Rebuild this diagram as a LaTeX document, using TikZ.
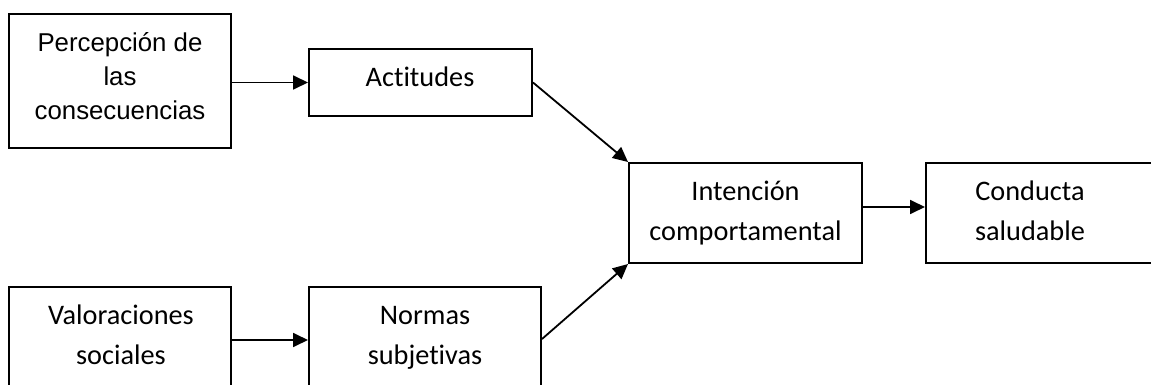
\documentclass[tikz,border=0pt]{standalone}
\usepackage{fontspec}
\setmainfont{Carlito}[Ligatures=NoCommon]
\newfontfamily\arialfont{Liberation Sans}
\usetikzlibrary{arrows.meta}

\begin{document}
\begin{tikzpicture}[x=1pt,y=-1pt,
    boxnode/.style={draw, line width=2pt, inner sep=0pt, rectangle},
    caltext/.style={inner sep=0pt, align=center,
      font=\fontsize{28.3pt}{40pt}\selectfont},
    arialtext/.style={inner sep=0pt, align=center,
      font=\arialfont\fontsize{25.8pt}{34pt}\selectfont},
    link/.style={line width=1.8pt, -{Triangle[length=15pt,width=14pt]}}]
  \useasboundingbox (0,0) rectangle (1151,385);
  \clip (0,0) rectangle (1151,385);

  % boxes
  \node[boxnode, minimum width=222pt, minimum height=134pt] (b1) at (120,81) {};
  \node[boxnode, minimum width=223pt, minimum height=67pt]  (b2) at (420.5,82.5) {};
  \node[boxnode, minimum width=233pt, minimum height=100pt] (b3) at (745.5,213) {};
  \node[boxnode, minimum width=274pt, minimum height=100pt] (b4) at (1063,213) {};
  \node[boxnode, minimum width=222pt, minimum height=133pt] (b5) at (120,353.5) {};
  \node[boxnode, minimum width=232pt, minimum height=133pt] (b6) at (425,353.5) {};

  % labels
  \node[arialtext] (t1) at (120,76) {Percepción de\\las\\consecuencias};
  \node[caltext, anchor=base] (t2) at (420,87) {Actitudes};
  \node[caltext] (t3) at (745.5,213) {Intención\\comportamental};
  \node[caltext] (t4) at (1030,211) {Conducta\\saludable};
  \node[caltext] (t5) at (121,334.5) {Valoraciones\\sociales};
  \node[caltext] (t6) at (425,338) {Normas\\subjetivas};

  % connectors
  \draw[link] (b2.west -| b1.east) -- (b2.west);
  \draw[link] (b2.east) -- (b3.north west);
  \draw[link] ([yshift=6pt]b3.east) -- ([yshift=6pt]b4.west);
  \draw[link] ([yshift=-54pt]b5.north east) -- ([yshift=-54pt]b6.north west);
  \draw[link] ([yshift=-53pt]b6.north east) -- (b3.south west);
\end{tikzpicture}
\end{document}
